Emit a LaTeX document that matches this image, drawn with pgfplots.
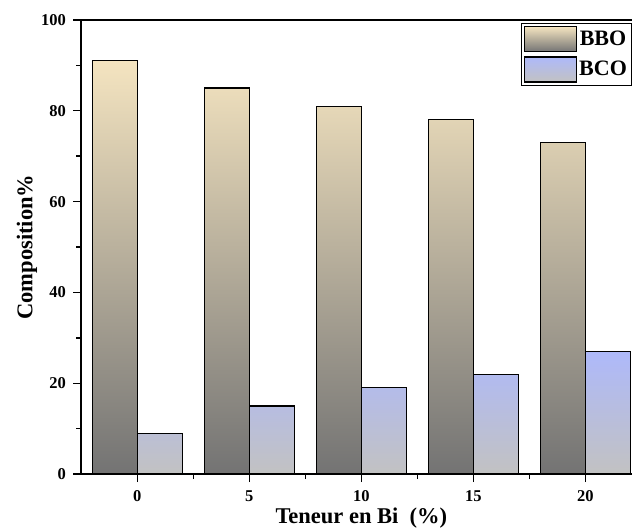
\documentclass[border=0pt]{standalone}
\usepackage{fontspec}
\setmainfont{Liberation Serif}
\usepackage{pgfplots}
\pgfplotsset{compat=1.18}
\definecolor{bbotop}{HTML}{F4E4C0}
\definecolor{bbomid}{HTML}{D6CAAA}
\definecolor{bbobot}{HTML}{737373}
\definecolor{bcotop}{HTML}{AEB9FA}
\definecolor{bcobot}{HTML}{C2C2C2}
\begin{document}
\begin{tikzpicture}[font=\bfseries]
\begin{axis}[
  x=22.4pt, y=4.54pt,
  xmin=-2.5, xmax=22.5, ymin=0, ymax=100,
  axis line style={line width=1.8pt},
  xtick={0,5,10,15,20}, minor xtick={2.5,7.5,12.5,17.5},
  ytick={0,20,40,60,80,100}, minor ytick={10,30,50,70,90},
  tick align=outside, xtick pos=bottom, ytick pos=left,
  major tick length=8pt, minor tick length=5pt,
  every tick/.style={line width=1.4pt, black},
  ticklabel style={font=\fontsize{16.5}{16.5}\selectfont\bfseries},
  xticklabel style={yshift=-5pt},
  yticklabel style={xshift=-4pt},
  /pgf/number format/assume math mode=true,
  xlabel={Teneur en Bi\ \ (\%)}, ylabel={Composition\%},
  label style={font=\fontsize{22.5}{22.5}\selectfont\bfseries},
  xlabel style={yshift=1pt},
  ylabel style={yshift=-3pt},
  legend style={at={(0.785,0.993)}, anchor=north west, draw=black, line width=1pt,
    font=\fontsize{22}{22}\selectfont\bfseries, row sep=4pt, inner sep=2.5pt},
  legend image code/.code={\draw[#1] (0pt,-12.5pt) rectangle (52pt,12.5pt);},
]
\addplot[ybar, bar width=2, bar shift=-1, draw=black, line width=1.2pt,
  top color=bbotop, middle color=bbomid, bottom color=bbobot]
  coordinates {(0,91) (5,85) (10,81) (15,78) (20,73)};
\addplot[ybar, bar width=2, bar shift=1, draw=black, line width=1.2pt,
  top color=bcotop, bottom color=bcobot]
  coordinates {(0,9) (5,15) (10,19) (15,22) (20,27)};
\legend{BBO,BCO}
\coordinate (bbl) at (axis cs:-6.13,-11.9);
\coordinate (bur) at (axis cs:22.08,104.4);
\end{axis}
\pgfresetboundingbox
\useasboundingbox (bbl) rectangle (bur);
\end{tikzpicture}
\end{document}
